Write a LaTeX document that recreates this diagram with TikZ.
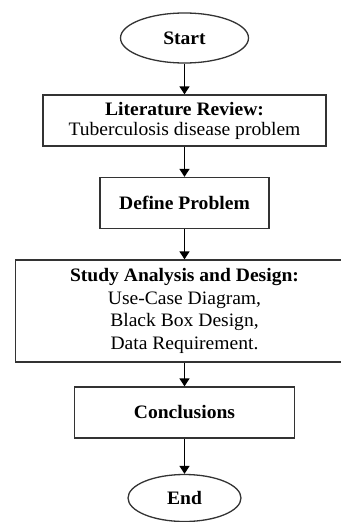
\documentclass[tikz,border=0pt]{standalone}
\usepackage{fontspec}
\setmainfont{Liberation Serif}[FakeStretch=1.03]
\usetikzlibrary{shapes.geometric,arrows.meta}
\begin{document}
\begin{tikzpicture}[x=1pt,y=1pt,
  every node/.style={font=\fontsize{19}{20}\selectfont, inner sep=0pt, align=center},
  boxst/.style={draw=black!80, line width=1.3pt, rectangle},
  ovalst/.style={draw=black!80, line width=1.3pt, ellipse},
  arr/.style={draw=black, line width=1.4pt, -{Triangle[width=10pt,length=8pt]}}]
\useasboundingbox (0,0) rectangle (340,-522);
\node[ovalst, minimum width=128pt, minimum height=50pt] (start) at (184.5,-38) {\textbf{Start}};
\node[boxst, minimum width=283pt, minimum height=51pt] (lit) at (184.5,-120.5) {\textbf{Literature Review:}\\Tuberculosis disease problem};
\node[boxst, minimum width=169pt, minimum height=51pt] (def) at (184.5,-203) {\textbf{Define Problem}};
\node[boxst, minimum width=338pt, minimum height=102pt, font=\fontsize{19}{22.5}\selectfont] (study) at (184.5,-311) {\textbf{Study Analysis and Design:}\\Use-Case Diagram,\\Black Box Design,\\Data Requirement.};
\node[boxst, minimum width=220pt, minimum height=51pt] (concl) at (184.5,-412.5) {\textbf{Conclusions}};
\node[ovalst, minimum width=113pt, minimum height=47pt] (end) at (184.5,-498) {\textbf{End}};
\draw[arr] (start) -- (lit);
\draw[arr] (lit) -- (def);
\draw[arr] (def) -- (study);
\draw[arr] (study) -- (concl);
\draw[arr] (concl) -- (end);
\end{tikzpicture}
\end{document}
